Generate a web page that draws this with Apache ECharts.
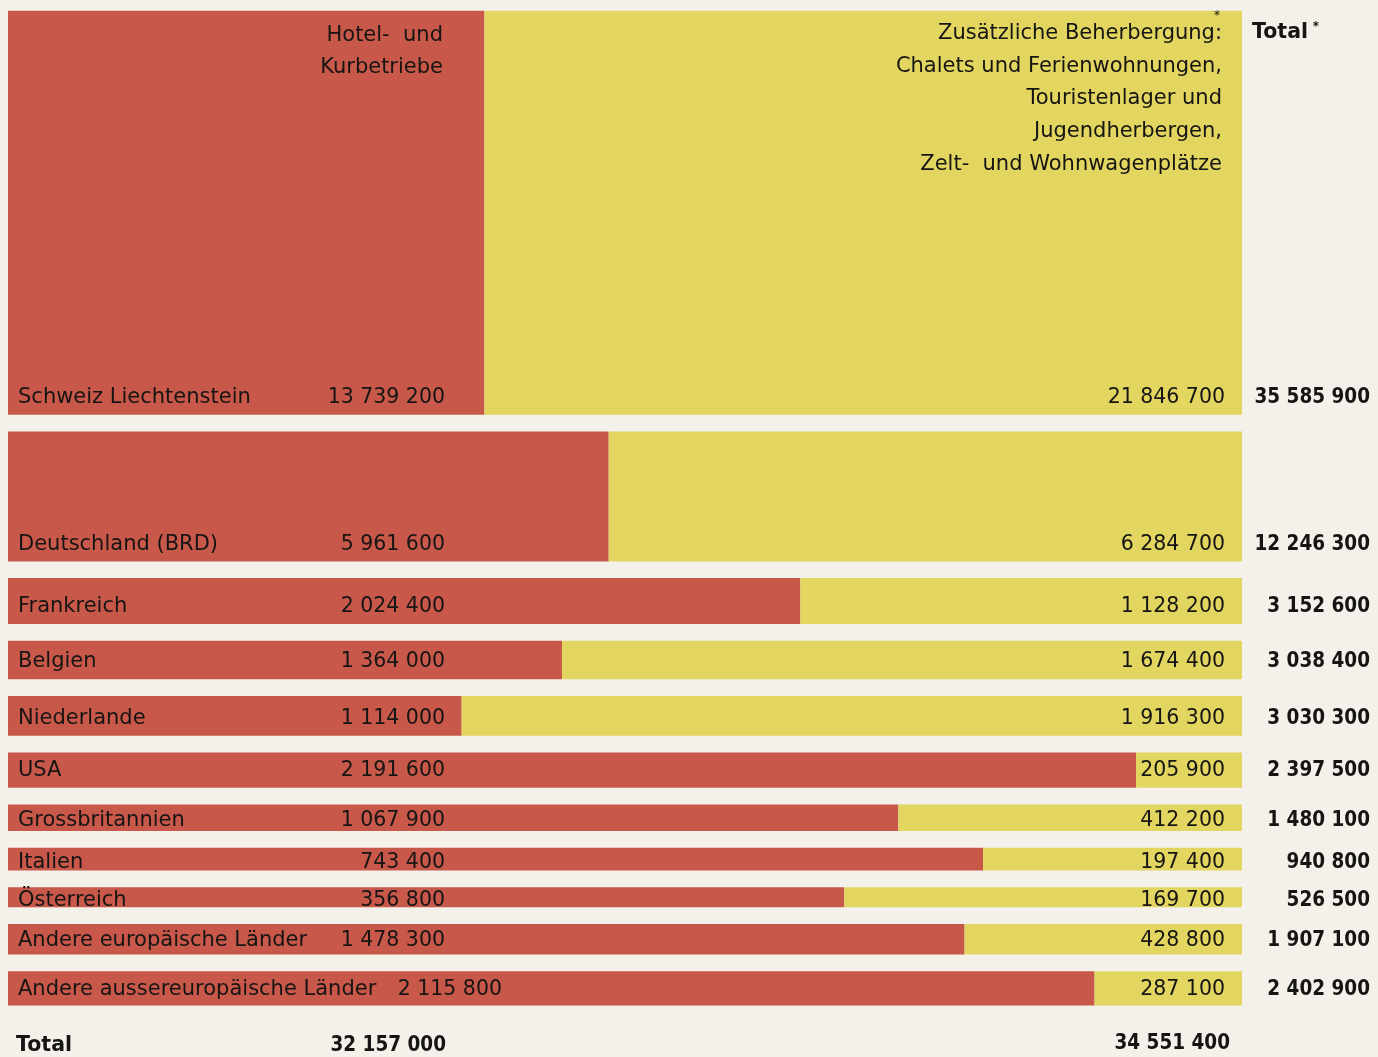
<!DOCTYPE html>
<html>
<head>
<meta charset="utf-8">
<script src="https://cdn.jsdelivr.net/npm/echarts@6/dist/echarts.min.js"></script>
<style>
html,body{margin:0;padding:0;background:#f3f1ea;}
#chart{width:1378px;height:1057px;}
</style>
</head>
<body>
<div id="chart"></div>
<script>
// Herkunftsländer
const categories = [
  'Schweiz Liechtenstein', 'Deutschland (BRD)', 'Frankreich', 'Belgien', 'Niederlande',
  'USA', 'Grossbritannien', 'Italien', 'Österreich',
  'Andere europäische Länder', 'Andere aussereuropäische Länder'
];
// Logiernächte in Hotel- und Kurbetrieben
const hotel = [13739200, 5961600, 2024400, 1364000, 1114000, 2191600, 1067900, 743400, 356800, 1478300, 2115800];
// Logiernächte in der zusätzlichen Beherbergung
const extra = [21846700, 6284700, 1128200, 1674400, 1916300, 205900, 412200, 197400, 169700, 428800, 287100];
// Zeilendicke und Abstand zwischen den Zeilen
const rowThickness = [404, 130, 46, 38.5, 39.7, 35.3, 26.7, 22.8, 20, 30.5, 34.3];
const rowGap = 16.7;

const totals = hotel.map((h, i) => h + extra[i]);
const sumHotel = hotel.reduce((a, b) => a + b, 0);
const sumExtra = extra.reduce((a, b) => a + b, 0);

const offsets = [];
let acc = 0;
rowThickness.forEach((t) => { offsets.push(acc); acc += t + rowGap; });
const yMax = acc - rowGap;

const fmt = (n) => String(n).replace(/\B(?=(\d{3})+(?!\d))/g, ' ');

const RED = '#c8584a', YELLOW = '#e2d560', INK = '#161513';
const FONT = '"DejaVu Sans", sans-serif';
const BFONT = '"DejaVu Sans Condensed", "DejaVu Sans", sans-serif';
const LABEL_FS = 21, NUM_FS = 20.5, BOLD_FS = 20.5, HEAD_FS = 21;

const mctx = document.createElement('canvas').getContext('2d');
function textWidth(t, size, weight) {
  mctx.font = (weight || 'normal') + ' ' + size + 'px ' + FONT;
  return mctx.measureText(t).width;
}

const chart = echarts.init(document.getElementById('chart'), null, {renderer: 'canvas'});

function renderItem(params, api) {
  const i = api.value(0);
  const share = hotel[i] / totals[i];
  const top = offsets[i], bottom = top + rowThickness[i];
  const a = api.coord([0, top]);
  const b = api.coord([share, bottom]);
  const c = api.coord([1, bottom]);
  const hpx = b[1] - a[1];
  const off = Math.max(-1, Math.min(11, (hpx - 20) * 0.7));
  const base = b[1] - off;
  const labelX = a[0] + 10;
  const cw = textWidth(categories[i], LABEL_FS);
  const hv = fmt(hotel[i]);
  const hw = textWidth(hv, NUM_FS);
  const hotelRight = Math.max(445, labelX + cw + 22 + hw);
  const txt = (x, y, t, align, size, weight, fam) => ({
    type: 'text', silent: true, z2: 10,
    style: {x: x, y: y - 0.3 * size, text: t, align: align, verticalAlign: 'middle',
      fill: INK, font: (weight || 'normal') + ' ' + size + 'px ' + (fam || FONT)}
  });
  return {
    type: 'group',
    children: [
      {type: 'rect', shape: {x: a[0], y: a[1], width: b[0] - a[0], height: hpx}, style: {fill: RED}},
      {type: 'rect', shape: {x: b[0], y: a[1], width: c[0] - b[0], height: hpx}, style: {fill: YELLOW}},
      txt(labelX, base, categories[i], 'left', LABEL_FS),
      txt(Math.min(hotelRight, 502), base, hv, 'right', NUM_FS),
      txt(c[0] - 17, base, fmt(extra[i]), 'right', NUM_FS),
      txt(c[0] + 128, base, fmt(totals[i]), 'right', BOLD_FS, 'bold', BFONT)
    ]
  };
}

const headerStyle = (x, y, t, align, size, weight, fam) => ({
  type: 'text', silent: true, z: 100, zlevel: 0,
  style: {x: x, y: y, text: t, align: align, verticalAlign: 'middle',
    fill: INK, font: (weight || 'normal') + ' ' + size + 'px ' + (fam || FONT)}
});

const option = {
  animation: false,
  backgroundColor: '#f3f1ea',
  grid: {left: 8, right: 136, top: 10.7, bottom: 51.5},
  xAxis: {type: 'value', min: 0, max: 1, show: false},
  yAxis: {type: 'value', min: 0, max: yMax, inverse: true, show: false},
  series: [{
    type: 'custom',
    z: 1,
    renderItem: renderItem,
    data: categories.map((c, i) => [i]),
    clip: false
  }],
  graphic: {
    elements: [
      headerStyle(443, 36, 'Hotel-  und', 'right', HEAD_FS),
      headerStyle(443, 68, 'Kurbetriebe', 'right', HEAD_FS),
      headerStyle(1222, 34, 'Zusätzliche Beherbergung:', 'right', HEAD_FS),
      headerStyle(1217, 16, '*', 'center', 12),
      headerStyle(1222, 67, 'Chalets und Ferienwohnungen,', 'right', HEAD_FS),
      headerStyle(1222, 99, 'Touristenlager und', 'right', HEAD_FS),
      headerStyle(1222, 132, 'Jugendherbergen,', 'right', HEAD_FS),
      headerStyle(1222, 165, 'Zelt-  und Wohnwagenplätze', 'right', HEAD_FS),
      headerStyle(1252, 33, 'Total', 'left', 20.5, 'bold'),
      headerStyle(1316, 27, '*', 'center', 12, 'bold'),
      headerStyle(16, 1046, 'Total', 'left', 20.5, 'bold'),
      headerStyle(446, 1046, fmt(sumHotel), 'right', BOLD_FS, 'bold', BFONT),
      headerStyle(1230, 1044, fmt(sumExtra), 'right', BOLD_FS, 'bold', BFONT)
    ]
  }
};
chart.setOption(option);
</script>
</body>
</html>
